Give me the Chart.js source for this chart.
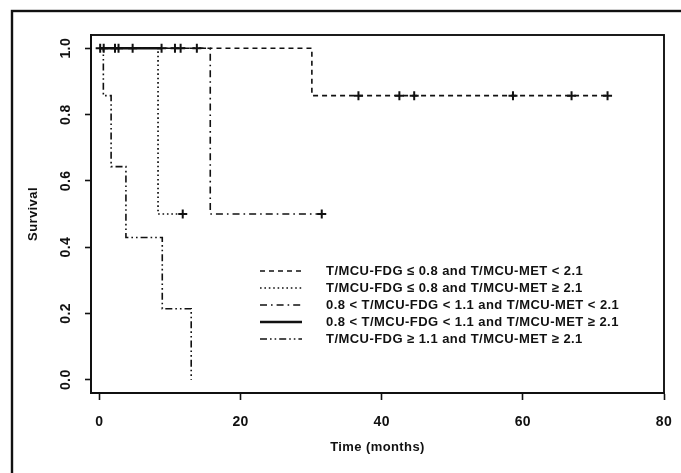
<!DOCTYPE html>
<html>
<head>
<meta charset="utf-8">
<script src="https://cdn.jsdelivr.net/npm/chart.js@4.4.1/dist/chart.umd.min.js"></script>
<style>
  html, body { margin: 0; padding: 0; background: #fff; }
  canvas { display: block; }
</style>
</head>
<body>
<canvas id="km" width="681" height="473"></canvas>
<script>
// Kaplan-Meier curves, months vs survival
const groupNames = [
  "T/MCU-FDG \u2264 0.8 and T/MCU-MET < 2.1",
  "T/MCU-FDG \u2264 0.8 and T/MCU-MET \u2265 2.1",
  "0.8 < T/MCU-FDG < 1.1 and T/MCU-MET < 2.1",
  "0.8 < T/MCU-FDG < 1.1 and T/MCU-MET \u2265 2.1",
  "T/MCU-FDG \u2265 1.1 and T/MCU-MET \u2265 2.1"
];

const lowLowTimes = [0, 30.1, 72.0];
const lowLowSurv = [1, 0.857, 0.857];
const lowLowCensor = [36.7, 42.5, 44.6, 58.6, 66.9, 72.0];

const lowHighTimes = [0, 8.3, 11.8];
const lowHighSurv = [1, 0.5, 0.5];
const lowHighCensor = [11.8];

const midLowTimes = [0, 15.7, 31.5];
const midLowSurv = [1, 0.5, 0.5];
const midLowCensor = [10.7, 11.5, 13.8, 31.5];

const midHighTimes = [0, 8.8];
const midHighSurv = [1, 1];
const midHighCensor = [0.1, 0.6, 2.2, 2.7, 4.7, 8.8];

const highHighTimes = [0, 0.55, 1.65, 3.75, 8.9, 13.0];
const highHighSurv = [1, 0.857, 0.643, 0.429, 0.214, 0];
const highHighCensor = [];

const xTickValues = [0, 20, 40, 60, 80];
const yTickValues = [0, 0.2, 0.4, 0.6, 0.8, 1.0];

const ink = "#111";
const styles = [
  { dash: [5, 4], width: 1.6 },
  { dash: [1.6, 2.8], width: 1.7 },
  { dash: [7, 4, 1.6, 4], width: 1.6 },
  { dash: [], width: 2.5 },
  { dash: [7, 3, 1.6, 3, 1.6, 3], width: 1.6 }
];

const groups = [
  [lowLowTimes, lowLowSurv, lowLowCensor],
  [lowHighTimes, lowHighSurv, lowHighCensor],
  [midLowTimes, midLowSurv, midLowCensor],
  [midHighTimes, midHighSurv, midHighCensor],
  [highHighTimes, highHighSurv, highHighCensor]
];

function survAt(times, surv, t) {
  let s = surv[0];
  times.forEach((tt, i) => { if (tt <= t) s = surv[i]; });
  return s;
}

const datasets = [];
groups.forEach(([times, surv, censor], i) => {
  datasets.push({
    label: groupNames[i],
    data: times.map((t, k) => ({ x: t, y: surv[k] })),
    showLine: true,
    stepped: true,
    borderColor: ink,
    borderWidth: styles[i].width,
    borderDash: styles[i].dash,
    pointRadius: 0,
    fill: false
  });
});
groups.forEach(([times, surv, censor], i) => {
  datasets.push({
    label: "censored " + (i + 1),
    data: censor.map(t => ({ x: t, y: survAt(times, surv, t) })),
    showLine: false,
    pointStyle: "cross",
    pointRadius: 4.5,
    borderWidth: 2,
    borderColor: ink,
    backgroundColor: ink
  });
});

const spacingPlugin = {
  id: "spacing",
  beforeInit(chart) { chart.ctx.letterSpacing = "0.4px"; },
  beforeDraw(chart) { chart.ctx.letterSpacing = "0.4px"; }
};

const boxPlugin = {
  id: "boxes",
  afterDraw(chart) {
    const { ctx, chartArea: a } = chart;
    ctx.save();
    ctx.strokeStyle = ink;
    ctx.lineWidth = 1.9;
    ctx.strokeRect(a.left, a.top, a.right - a.left, a.bottom - a.top);
    // outer figure frame
    ctx.lineWidth = 2.4;
    ctx.strokeRect(12, 11, 720, 520);
    ctx.restore();
  }
};

const legendPlugin = {
  id: "kmLegend",
  afterDraw(chart) {
    const { ctx, chartArea: a } = chart;
    const x0 = a.left + 169;
    const y0 = a.top + 236;
    ctx.save();
    ctx.font = "bold 13px 'Liberation Sans', Arial, sans-serif";
    ctx.letterSpacing = "0.45px";
    ctx.fillStyle = ink;
    ctx.textBaseline = "middle";
    groupNames.forEach((name, i) => {
      const y = y0 + i * 17;
      ctx.strokeStyle = ink;
      ctx.lineWidth = styles[i].width;
      ctx.setLineDash(styles[i].dash);
      ctx.beginPath();
      ctx.moveTo(x0, y);
      ctx.lineTo(x0 + 42, y);
      ctx.stroke();
      ctx.setLineDash([]);
      ctx.fillText(name, x0 + 66, y);
    });
    ctx.restore();
  }
};

const tickFont = { family: "'Liberation Sans', Arial, sans-serif", size: 14, weight: "bold" };
const titleFont = { family: "'Liberation Sans', Arial, sans-serif", size: 13, weight: "bold" };

new Chart(document.getElementById("km"), {
  type: "scatter",
  data: { datasets },
  options: {
    responsive: false,
    devicePixelRatio: 1,
    animation: false,
    layout: { padding: { left: 14, top: 35, right: 17, bottom: 0 } },
    plugins: { legend: { display: false }, tooltip: { enabled: false } },
    scales: {
      x: {
        type: "linear",
        min: -1.2,
        max: 80,
        afterBuildTicks: s => { s.ticks = xTickValues.map(v => ({ value: v })); },
        afterFit: s => { s.height = 80; s.paddingLeft = 0; s.paddingRight = 0; },
        ticks: { font: tickFont, color: ink, padding: 14, callback: v => String(v) },
        grid: { drawOnChartArea: false, tickLength: 7, tickWidth: 1.6, tickColor: ink },
        border: { color: ink, width: 1.9 },
        title: { display: true, text: "Time (months)", font: titleFont, color: ink, padding: { top: 0, bottom: 18 } }
      },
      y: {
        type: "linear",
        min: -0.04,
        max: 1.04,
        afterBuildTicks: s => { s.ticks = yTickValues.map(v => ({ value: v })); },
        afterFit: s => { s.width = 77; s.paddingTop = 0; s.paddingBottom = 0; },
        ticks: { font: tickFont, color: ink, padding: 9, minRotation: 90, maxRotation: 90, crossAlign: "center", callback: v => v.toFixed(1) },
        grid: { drawOnChartArea: false, tickLength: 6, tickWidth: 1.6, tickColor: ink },
        border: { color: ink, width: 1.9 },
        title: { display: true, text: "Survival", font: titleFont, color: ink, padding: { top: 12, bottom: 0 } }
      }
    }
  },
  plugins: [spacingPlugin, boxPlugin, legendPlugin]
});
</script>
</body>
</html>
